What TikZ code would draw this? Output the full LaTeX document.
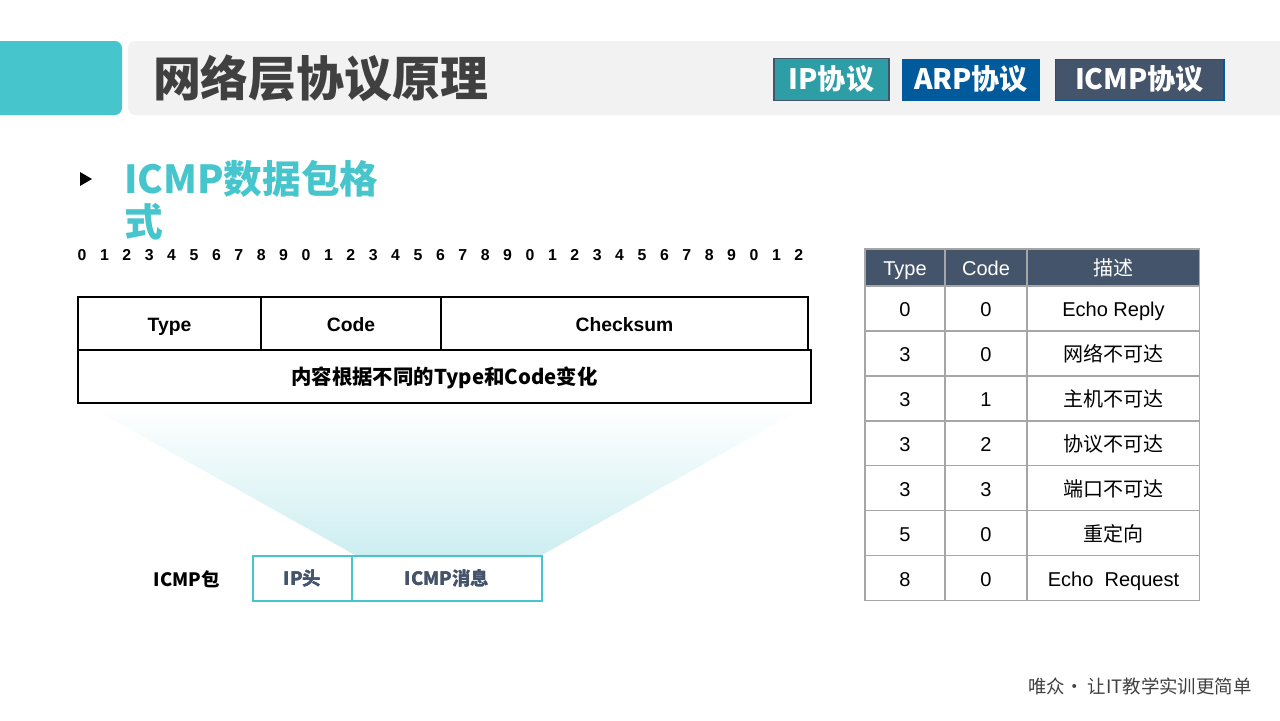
\documentclass[tikz,border=0pt]{standalone}
\usepackage{fontspec}
\setmainfont{Liberation Sans}
\newfontfamily\cjk{Noto Sans CJK SC}
\usetikzlibrary{positioning, calc}

\definecolor{tealA}{HTML}{47C5CC}
\definecolor{tealB}{HTML}{2E9EA6}
\definecolor{blueA}{HTML}{005A9C}
\definecolor{slate}{HTML}{44546A}
\definecolor{barGray}{HTML}{F2F2F2}
\definecolor{titleGray}{HTML}{404040}
\definecolor{gridGray}{HTML}{A6A6A6}
\definecolor{fadeTeal}{HTML}{CDEEF1}

\begin{document}
\begin{tikzpicture}[
  x=0.02cm, y=-0.02cm,
  every node/.style={inner sep=0pt, outer sep=0pt},
  tabbtn/.style={rectangle, text=white, font=\cjk\bfseries\fontsize{16}{18}\selectfont, minimum height=0.83cm, text height=13pt, text depth=2pt},
  field/.style={rectangle, draw=black, line width=1.1pt, minimum height=1.06cm, text height=11.6pt, text depth=2.3pt, font=\bfseries\fontsize{11}{13}\selectfont},
  pkt/.style={rectangle, draw=tealA, line width=1.6pt, minimum height=0.9cm, text=slate, font=\cjk\bfseries\fontsize{10.5}{12}\selectfont},
  cell/.style={rectangle, draw=gridGray, line width=0.6pt, minimum height=0.9cm, text height=11.8pt, text depth=2.4pt, font=\fontsize{11.4}{13}\selectfont},
  head/.style={cell, fill=slate, text=white, minimum height=0.74cm}
]
\clip (0,0) rectangle (1280,720);

% Header bar
\fill[tealA, rounded corners=4] (-20,41) rectangle (122,115);
\fill[barGray, rounded corners=4] (128,41) rectangle (1300,115);
\node[anchor=west, text=titleGray, font=\cjk\bfseries\fontsize{27.3}{30}\selectfont] (title) at (153,78) {网络层协议原理};

% Tabs
\node[tabbtn, fill=tealB, draw=slate, line width=0.6pt, minimum width=2.3cm] (tabIP) at (831.5,79.5) {IP协议};
\node[tabbtn, fill=blueA, minimum width=2.76cm] (tabARP) at (971,80) {ARP协议};
\node[tabbtn, fill=slate, draw=blueA, line width=0.6pt, minimum width=3.38cm] (tabICMP) at (1139.5,80) {ICMP协议};

% Section heading
\fill[black] (80,172) -- (92,179) -- (80,186) -- cycle;
\node[anchor=north west, align=left, text=tealA, font=\cjk\bfseries\fontsize{22}{24.5}\selectfont] (heading) at (124,160) {ICMP数据包格\\式};

% Bit numbers
\foreach \i in {0,...,32} {
  \pgfmathtruncatemacro\bit{mod(\i,10)}
  \node[font=\bfseries\fontsize{9}{10}\selectfont] (b\i) at (82+22.4*\i,255) {\bit};
}

% ICMP header
\node[field, minimum width=3.66cm] (type) at (169.5,323.5) {Type};
\node[field, minimum width=3.6cm, right=0pt of type] (code) {Code};
\node[field, minimum width=7.34cm, right=0pt of code] (csum) {Checksum};
\node[field, minimum width=14.66cm, font=\cjk\bfseries\fontsize{11.6}{13}\selectfont] (body) at (444.5,376.5) {内容根据不同的Type和Code变化};

% ICMP packet
\node[anchor=east, font=\cjk\bfseries\fontsize{10.5}{12}\selectfont] (pktlabel) at (220,579.5) {ICMP包};
\node[pkt, minimum width=1.98cm] (iphdr) at (302.5,578.5) {IP头};
\node[pkt, minimum width=3.8cm, right=0pt of iphdr] (icmpmsg) {ICMP消息};

% Fan from header to message
\shade[top color=white, bottom color=fadeTeal]
  ($(body.south west)+(12,4)$) -- ($(body.south east)+(-6,4)$)
  -- ($(icmpmsg.north east)+(0,-1)$) -- ($(icmpmsg.north west)+(3,-1)$) -- cycle;
\node[pkt, minimum width=1.98cm] at (iphdr) {IP头};
\node[pkt, minimum width=3.8cm] at (icmpmsg) {ICMP消息};

% Type/Code table
\node[head, minimum width=1.6cm] (t0) at (905,267.5) {Type};
\node[head, minimum width=1.64cm, right=0pt of t0] (c0) {Code};
\node[head, minimum width=3.46cm, right=0pt of c0] (d0) {\cjk 描述};
\foreach \t/\c/\d [count=\i, remember=\i as \j (initially 0)] in {
  0/0/Echo Reply, 3/0/{\cjk 网络不可达}, 3/1/{\cjk 主机不可达}, 3/2/{\cjk 协议不可达},
  3/3/{\cjk 端口不可达}, 5/0/{\cjk 重定向}, 8/0/Echo\ \ Request} {
  \node[cell, minimum width=1.6cm, below=0pt of t\j] (t\i) {\t};
  \node[cell, minimum width=1.64cm, right=0pt of t\i] (c\i) {\c};
  \node[cell, minimum width=3.46cm, right=0pt of c\i] (d\i) {\d};
}

% Footer
\node[text=titleGray, font=\cjk\fontsize{10.5}{12}\selectfont] (footer) at (1140,686) {唯众• 让IT教学实训更简单};
\end{tikzpicture}
\end{document}
